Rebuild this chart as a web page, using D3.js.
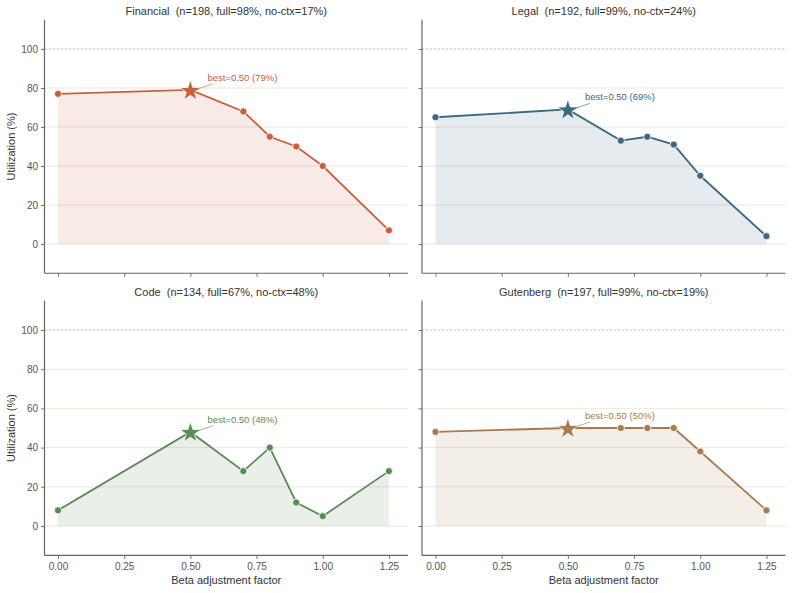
<!DOCTYPE html>
<html>
<head>
<meta charset="utf-8">
<script src="https://cdn.jsdelivr.net/npm/d3@7"></script>
<style>
  body { margin: 0; background: #fff; }
  svg { font-family: "Liberation Sans", Arial, sans-serif; }
  text { white-space: pre; }
</style>
</head>
<body>
<script>
const width = 792, height = 593;

// data
const betas = [0, 0.5, 0.7, 0.8, 0.9, 1.0, 1.25];
const financial = [77, 79, 68, 55, 50, 40, 7];
const legal = [65, 69, 53, 55, 51, 35, 4];
const code = [8, 48, 28, 40, 12, 5, 28];
const gutenberg = [48, 50, 50, 50, 50, 38, 8];
const titles = [
  "Financial  (n=198, full=98%, no-ctx=17%)",
  "Legal  (n=192, full=99%, no-ctx=24%)",
  "Code  (n=134, full=67%, no-ctx=48%)",
  "Gutenberg  (n=197, full=99%, no-ctx=19%)"
];
const colors = ["#c8603d", "#3c6882", "#5a8c55", "#a97a4d"];
const yTicks = [0, 20, 40, 60, 80, 100];
const xTicks = [0, 0.25, 0.5, 0.75, 1.0, 1.25];

const series = [financial, legal, code, gutenberg];

const svg = d3.select("body").append("svg").attr("width", width).attr("height", height);

const cols = [[44.5, 408], [422, 785.5]];
const rows = [[19.75, 273.25], [300.6, 555.4]];

series.forEach((vals, i) => {
  const col = i % 2, row = Math.floor(i / 2);
  const color = colors[i];
  const x = d3.scaleLinear().domain([-0.051, 1.322]).range(cols[col]);
  const y = d3.scaleLinear().domain([-15, 115]).range([rows[row][1], rows[row][0]]);
  const g = svg.append("g");
  const pts = betas.map((b, k) => ({ b, v: vals[k] }));

  // grid
  g.selectAll(".grid").data(yTicks.filter(t => t < 100)).enter().append("line")
    .attr("x1", cols[col][0]).attr("x2", cols[col][1])
    .attr("y1", d => y(d)).attr("y2", d => y(d))
    .attr("stroke", "#ebe4d6").attr("stroke-width", 0.9);
  g.append("line")
    .attr("x1", cols[col][0]).attr("x2", cols[col][1])
    .attr("y1", y(100)).attr("y2", y(100))
    .attr("stroke", "#b5b0a8").attr("stroke-width", 0.8).attr("stroke-dasharray", "2.5,1.5");

  // area
  g.append("path").datum(pts)
    .attr("d", d3.area().x(d => x(d.b)).y0(y(0)).y1(d => y(d.v)))
    .attr("fill", color).attr("fill-opacity", 0.13);

  g.append("path").datum(pts)
    .attr("d", d3.line().x(d => x(d.b)).y(d => y(d.v)))
    .attr("fill", "none").attr("stroke", color).attr("stroke-width", 1.8);

  // best point
  let bi = d3.maxIndex(vals);
  const best = pts[bi];
  g.selectAll(".dot").data(pts.filter((d, k) => k !== bi)).enter().append("circle")
    .attr("cx", d => x(d.b)).attr("cy", d => y(d.v)).attr("r", 3.6)
    .attr("fill", color).attr("stroke", "#fff").attr("stroke-width", 0.8);

  g.append("path")
    .attr("d", d3.symbol(d3.symbolStar, 140)())
    .attr("transform", `translate(${x(best.b)},${y(best.v) + 1})`)
    .attr("fill", color).attr("stroke", "#fff").attr("stroke-width", 0.8);

  const bx = x(best.b), by = y(best.v);
  g.append("line")
    .attr("x1", bx + 7).attr("y1", by - 1).attr("x2", bx + 22).attr("y2", by - 6)
    .attr("stroke", color).attr("stroke-width", 0.8).attr("stroke-opacity", 0.8);
  g.append("text")
    .attr("x", bx + 17).attr("y", by - 9)
    .attr("fill", color).attr("font-size", 9.5)
    .text(`best=${d3.format(".2f")(best.b)} (${best.v}%)`);

  // axes
  const ya = d3.axisLeft(y).tickValues(yTicks).tickSize(3.5).tickPadding(3)
    .tickFormat(col === 0 ? d3.format("d") : "");
  const yg = g.append("g").attr("transform", `translate(${cols[col][0]},0)`).call(ya);
  const xa = d3.axisBottom(x).tickValues(xTicks).tickSize(3.5).tickPadding(4)
    .tickFormat(row === 1 ? d3.format(".2f") : "");
  const xg = g.append("g").attr("transform", `translate(0,${rows[row][1]})`).call(xa);
  [yg, xg].forEach(a => {
    a.select(".domain").attr("stroke", "#666").attr("stroke-width", 1.2);
    a.selectAll(".tick line").attr("stroke", "#666").attr("stroke-width", 0.9);
    a.selectAll(".tick text").attr("fill", "#555").attr("font-size", 10)
      .attr("font-family", "Liberation Sans, Arial, sans-serif");
  });
  yg.select(".domain").attr("d", `M0,${rows[row][1]}V${rows[row][0]}`);
  xg.select(".domain").attr("d", `M${cols[col][0]},0H${cols[col][1]}`);

  g.append("text")
    .attr("x", (cols[col][0] + cols[col][1]) / 2).attr("y", rows[row][0] - 4.5)
    .attr("text-anchor", "middle").attr("font-size", 11).attr("fill", "#333")
    .text(titles[i]);

  if (col === 0) {
    g.append("text")
      .attr("transform", `translate(15,${(rows[row][0] + rows[row][1]) / 2}) rotate(-90)`)
      .attr("text-anchor", "middle").attr("font-size", 11).attr("fill", "#333")
      .text("Utilization (%)");
  }
  if (row === 1) {
    g.append("text")
      .attr("x", (cols[col][0] + cols[col][1]) / 2).attr("y", 584)
      .attr("text-anchor", "middle").attr("font-size", 11).attr("fill", "#333")
      .text("Beta adjustment factor");
  }
});
</script>
</body>
</html>
